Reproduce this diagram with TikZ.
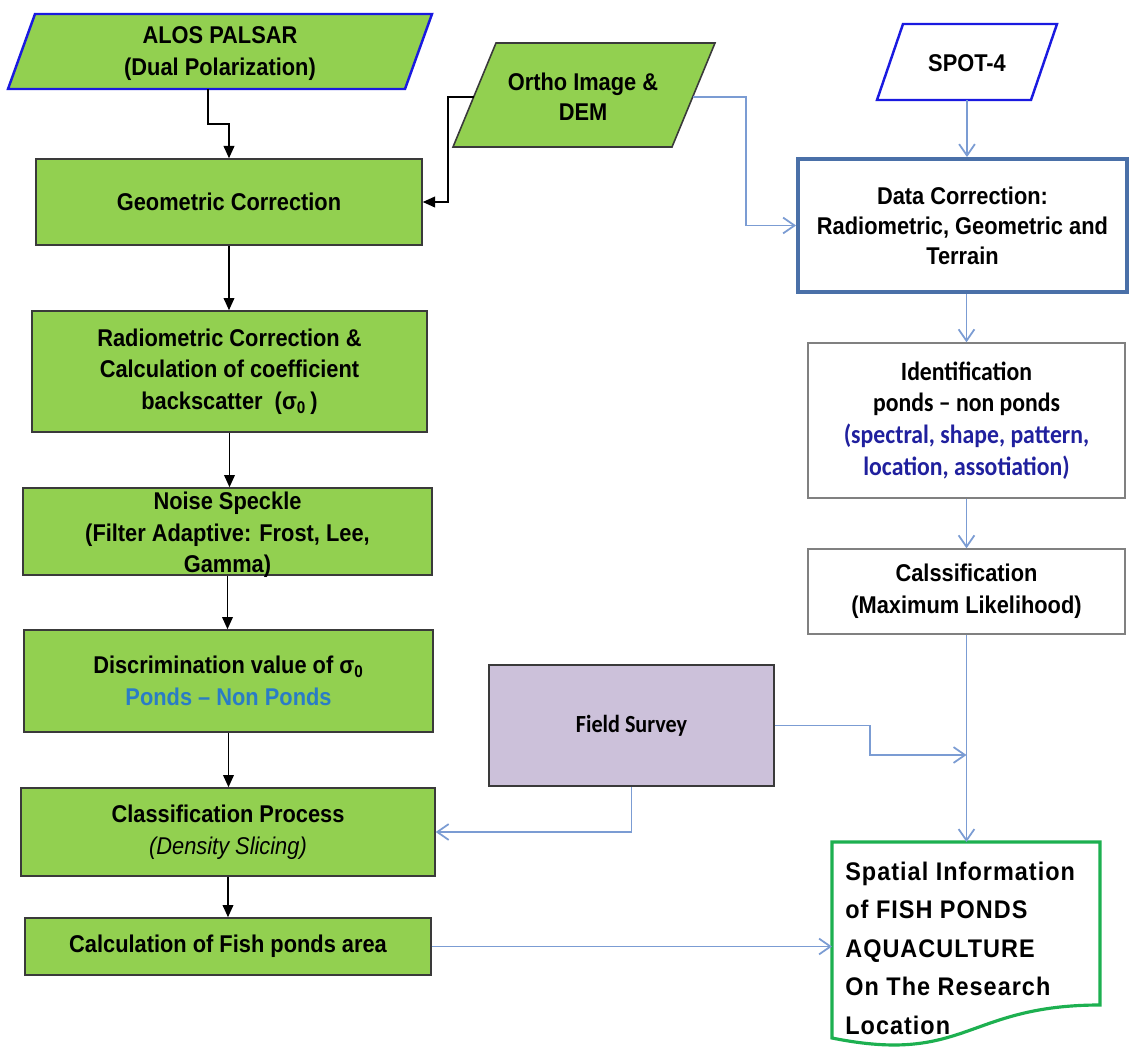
\documentclass[tikz,border=0pt]{standalone}
\usepackage{fontspec}
\setmainfont{Liberation Sans}[FakeStretch=0.9]
\newfontfamily\calfont{Carlito}[FakeStretch=0.9]
\newfontfamily\spfont{Liberation Sans}[FakeStretch=0.92,LetterSpace=4]
\usetikzlibrary{arrows.meta,calc}
\definecolor{boxgreen}{HTML}{92D050}
\definecolor{boxedge}{HTML}{3A3A3A}
\definecolor{inblue}{HTML}{1A1AE0}
\definecolor{databorder}{HTML}{4A70A8}
\definecolor{graybox}{HTML}{808080}
\definecolor{lavender}{HTML}{CCC1DA}
\definecolor{docgreen}{HTML}{1DB050}
\definecolor{lineblue}{HTML}{7B9CD3}
\definecolor{pondblue}{HTML}{2A7CC6}
\definecolor{navytext}{HTML}{20209E}
\def\px{0.02cm}
\newcommand{\mainfnt}{\fontsize{13.8}{18}\selectfont\bfseries}
\tikzset{
  gbox/.style={draw=boxedge, fill=boxgreen, line width=0.8pt, inner sep=0pt, align=center, font=\mainfnt},
  wbox/.style={draw=graybox, fill=white, line width=0.8pt, inner sep=0pt, align=center},
  frame/.style={inner sep=0pt, outer sep=0pt},
  txt/.style={inner sep=0pt, align=center, font=\mainfnt},
  blk/.style={draw=black, line width=1.1pt, -{Triangle[length=7pt,width=6pt]}},
  blu/.style={draw=lineblue, line width=1pt, -{Straight Barb[length=6.5pt,width=9pt]}}
}
\begin{document}
\begin{tikzpicture}[x=0.02cm, y=-0.02cm]
\fill[white] (0,0) rectangle (1130,1048);
\useasboundingbox (0,0) rectangle (1130,1048);

% ---------- left column ----------
\node[frame, minimum width=424*\px, minimum height=75*\px] (alos) at (220,51.5) {};
\draw[draw=inblue, fill=boxgreen, line width=1.4pt, line join=miter]
  ($(alos.north west)+(27,0)$) -- (alos.north east) -- ($(alos.south east)+(-27,0)$) -- (alos.south west) -- cycle;
\node[txt, font=\fontsize{13.8}{18.7}\selectfont\bfseries] (alostxt) at (220,53.5) {ALOS PALSAR\\(Dual Polarization)};

\node[gbox, minimum width=386*\px, minimum height=86*\px] (geo) at (229,202) {Geometric Correction};
\node[gbox, minimum width=395*\px, minimum height=121*\px] (rad) at (229.5,371.5)
  {Radiometric Correction \&\\ Calculation of coefficient\\ backscatter\ \ (σ\textsubscript{0}\,)};
\node[gbox, minimum width=409*\px, minimum height=87*\px] (noise) at (227.5,531.5) {};
\node[txt] (noisetxt) at (227.5,535) {Noise Speckle\\(Filter Adaptive: Frost, Lee,\\Gamma)};
\node[gbox, minimum width=409*\px, minimum height=102*\px] (disc) at (228.5,681)
  {Discrimination value of σ\textsubscript{0}\\ \textcolor{pondblue}{Ponds – Non Ponds}};
\node[gbox, minimum width=414*\px, minimum height=88*\px] (cls) at (228,832)
  {Classification Process\\ {\mdseries\itshape (Density Slicing)}};
\node[gbox, minimum width=406*\px, minimum height=57*\px] (calc) at (228,946.5) {Calculation of Fish ponds area};

% ---------- ortho ----------
\node[frame, minimum width=262*\px, minimum height=104*\px] (ortho) at (584,95) {};
\draw[draw=boxedge, fill=boxgreen, line width=0.9pt, line join=miter]
  ($(ortho.north west)+(43,0)$) -- (ortho.north east) -- ($(ortho.south east)+(-43,0)$) -- (ortho.south west) -- cycle;
\node[txt, font=\fontsize{13.8}{17}\selectfont\bfseries] (orthotxt) at (583,97) {Ortho Image \&\\DEM};
\coordinate (oL) at ($(ortho.south west)+(20.7,-50)$);
\coordinate (oR) at ($(ortho.south east)+(-22.3,-50)$);

% ---------- right column ----------
\node[frame, minimum width=180*\px, minimum height=76*\px] (spot) at (967,62) {};
\draw[draw=inblue, fill=white, line width=1.4pt, line join=miter]
  ($(spot.north west)+(26,0)$) -- (spot.north east) -- ($(spot.south east)+(-26,0)$) -- (spot.south west) -- cycle;
\node[txt] (spottxt) at (967,63) {SPOT-4};

\node[wbox, draw=databorder, line width=2.2pt, minimum width=329*\px, minimum height=133*\px,
  font=\fontsize{13.8}{17}\selectfont\bfseries] (data) at (962.5,225.5)
  {Data Correction:\\Radiometric, Geometric and\\Terrain};
\node[wbox, minimum width=317*\px, minimum height=155*\px,
  font=\calfont\fontsize{15}{18}\selectfont\bfseries] (ident) at (966.5,420.5)
  {Identification\\ponds – non ponds\\\textcolor{navytext}{(spectral, shape, pattern,}\\\textcolor{navytext}{location, assotiation)}};
\node[wbox, minimum width=317*\px, minimum height=85*\px, font=\mainfnt] (calss) at (966.5,591.5)
  {Calssification\\(Maximum Likelihood)};

\node[draw=boxedge, fill=lavender, line width=1.1pt, inner sep=0pt, minimum width=285*\px, minimum height=121*\px,
  font=\calfont\fontsize{14}{17}\selectfont\bfseries] (field) at (631.5,725.5) {Field Survey};

% ---------- output document ----------
\node[frame, minimum width=268*\px, minimum height=201*\px, anchor=north west] (spatial) at (832,842) {};
\draw[draw=docgreen, fill=white, line width=1.8pt, line join=miter]
  (spatial.north west) -- (spatial.north east) -- ($(spatial.north east)+(0,163)$)
  .. controls ($(spatial.north)+(0,163)$) and ($(spatial.north)+(0,223)$) .. ($(spatial.north west)+(0,196)$) -- cycle;
\node[inner sep=0pt, align=left, anchor=west, font=\spfont\fontsize{14.5}{21.9}\selectfont\bfseries] (sptext) at (845,948)
  {Spatial Information\\of FISH PONDS\\AQUACULTURE\\On The Research\\Location};

% ---------- black connectors ----------
\draw[blk] ($(alos.south)+(-12,0)$) -- ++(0,35) -| (geo.north);
\draw[blk] (oL) -- ++(-26,0) |- (geo.east);
\draw[blk] (geo.south) -- (geo.south |- rad.north);
\draw[blk] (rad.south) -- (rad.south |- noise.north);
\draw[blk] (noise.south) -- (noise.south |- disc.north);
\draw[blk] (disc.south) -- (disc.south |- cls.north);
\draw[blk] (cls.south) -- (cls.south |- calc.north);

% ---------- blue connectors ----------
\draw[blu] (oR) -- ++(53,0) |- (data.west);
\draw[blu] (spot.south) -- (spot.south |- data.north);
\draw[blu] (ident.north |- data.south) -- (ident.north);
\draw[blu] (ident.south) -- (calss.north);
\draw[blu] (calss.south) -- (calss.south |- spatial.north);
\coordinate (yjoin) at (0,755);
\coordinate (join) at (calss.south |- yjoin);
\draw[blu] (field.east) -- ++(95,0) |- (join);
\draw[blu] (field.south) |- (cls.east);
\draw[blu] (calc.east) -- (calc.east -| spatial.west);
\end{tikzpicture}
\end{document}
